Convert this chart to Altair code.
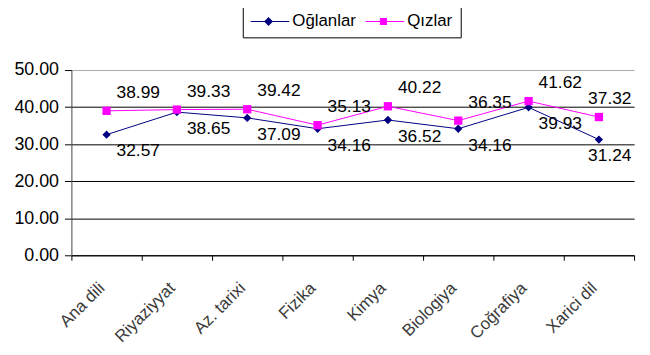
import altair as alt
import pandas as pd

categories = ["Ana dili", "Riyaziyyat", "Az. tarixi", "Fizika", "Kimya", "Biologiya", "Coğrafiya", "Xarici dil"]
oglanlar = [32.57, 38.65, 37.09, 34.16, 36.52, 34.16, 39.93, 31.24]
qizlar = [38.99, 39.33, 39.42, 35.13, 40.22, 36.35, 41.62, 37.32]
series = ["Oğlanlar", "Qızlar"]
colors = ["#000080", "#FF00FF"]
y_ticks = [0, 10, 20, 30, 40, 50]

rows = []
for c, v in zip(categories, oglanlar):
    rows.append({"fenn": c, "qrup": series[0], "deyer": v})
for c, v in zip(categories, qizlar):
    rows.append({"fenn": c, "qrup": series[1], "deyer": v})
df = pd.DataFrame(rows)

FONT = "Liberation Sans"
last = categories[-1]

x = alt.X("fenn:N", sort=categories, title=None,
          scale=alt.Scale(paddingInner=0, paddingOuter=0),
          axis=alt.Axis(labelAngle=-45, labelAlign="right", labelBaseline="middle",
                        labelFontSize=17, labelColor="#3a3a3a", labelFont=FONT,
                        labelPadding=25, labelOffset=-5, tickBand="extent", tickSize=5,
                        tickColor="black", domainColor="black", grid=False))
y = alt.Y("deyer:Q", title=None,
          scale=alt.Scale(domain=[0, 50], nice=False),
          axis=alt.Axis(values=y_ticks, format=".2f", labelFontSize=18, labelFont=FONT,
                        labelColor="black", tickSize=7, tickColor="black",
                        labelPadding=6, domainColor="#444444",
                        gridColor={"condition": {"test": "datum.value === 50", "value": "#aaaaaa"}, "value": "black"},
                        gridOpacity=1, gridWidth=1))

color_scale = alt.Scale(domain=series, range=colors)
marker_shapes = alt.Scale(domain=series, range=["diamond", "square"])
legend_shapes = alt.Scale(domain=series, range=[
    "M-1,-0.06H3.33V0.06H-1Z M1,-0.5L1.5,0L1,0.5L0.5,0Z",
    "M-1,-0.06H3.33V0.06H-1Z M0.6,-0.4H1.4V0.4H0.6Z",
])

leg = alt.Legend(title=None, orient="none", legendX=173, legendY=-66,
                 direction="horizontal", strokeColor="black",
                 padding=8, labelFontSize=17, labelFont=FONT,
                 labelColor="black", symbolSize=324, symbolOpacity=1,
                 symbolStrokeWidth=0, labelOffset=24, columnPadding=9)

base = alt.Chart(df)

lines = base.mark_line(strokeWidth=1).encode(
    x=x, y=y,
    color=alt.Color("qrup:N", scale=color_scale, legend=None),
    detail="qrup:N",
)

markers = base.mark_point(filled=True, opacity=1, size=70).encode(
    x=x, y=y,
    color=alt.Color("qrup:N", scale=color_scale, legend=None),
    shape=alt.Shape("qrup:N", scale=marker_shapes, legend=None),
)

legend_layer = base.mark_point(filled=True, opacity=0).encode(
    x=x, y=y,
    color=alt.Color("qrup:N", scale=color_scale, legend=leg),
    shape=alt.Shape("qrup:N", scale=legend_shapes, legend=leg),
)

def labels(group, dy, inner):
    cond = (alt.datum.qrup == group) & ((alt.datum.fenn != last) if inner else (alt.datum.fenn == last))
    return base.transform_filter(cond).mark_text(
        dx=32 if inner else 11, dy=dy, fontSize=17.5, font=FONT, color="black"
    ).encode(x=x, y=y, text=alt.Text("deyer:Q", format=".2f"))

chart = alt.layer(
    lines, markers, legend_layer,
    labels(series[1], -18, True), labels(series[1], -18, False),
    labels(series[0], 17, True), labels(series[0], 17, False),
).resolve_scale(
    color="independent", shape="independent"
).properties(
    width=568, height=187,
    autosize=alt.AutoSizeParams(type="none"),
    padding={"left": 64, "top": 61, "right": 8, "bottom": 98},
    background="white",
).configure_view(stroke=None)

chart.save("out.html", embed_options={"renderer": "svg", "actions": False})
